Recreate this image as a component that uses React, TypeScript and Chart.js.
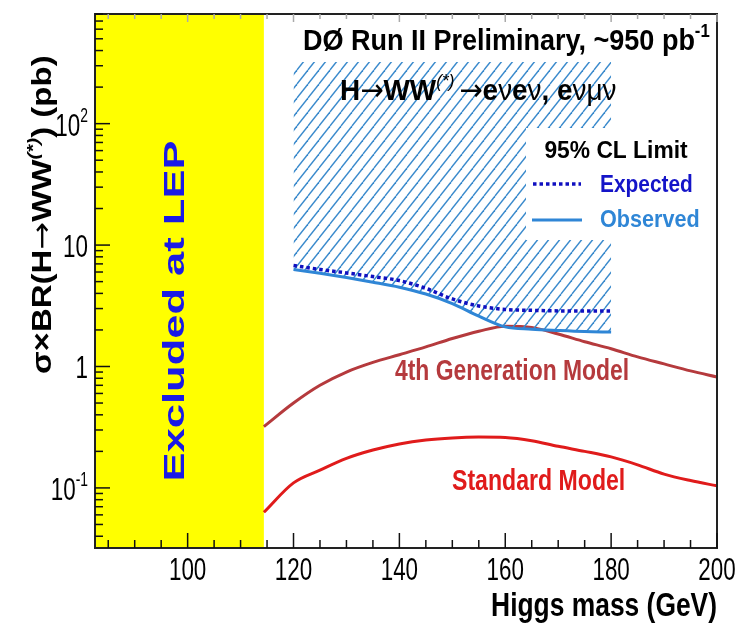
import React, { useEffect, useRef } from 'react';
import { Chart, registerables } from 'chart.js';

Chart.register(...registerables);

// Higgs masses (GeV) where the 95% CL limits were computed
const LIMIT_MASS = [120, 125, 130, 135, 140, 145, 150, 155, 160, 165, 170, 175, 180];
// Expected and observed upper limits on sigma x BR (pb)
const EXPECTED = [6.8, 6.3, 5.9, 5.5, 5.1, 4.4, 3.6, 3.15, 2.95, 2.9, 2.87, 2.86, 2.86];
const OBSERVED = [6.3, 5.85, 5.4, 4.95, 4.5, 3.95, 3.3, 2.6, 2.12, 2.03, 1.98, 1.94, 1.92];

// Model predictions (pb)
const MODEL_MASS = [114.4, 120, 125, 130, 135, 140, 145, 150, 155, 160, 165, 170, 175, 180, 185, 190, 195, 200];
const FOURTH_GEN = [0.32, 0.5, 0.7, 0.9, 1.08, 1.25, 1.45, 1.7, 1.95, 2.15, 2.1, 1.85, 1.6, 1.4, 1.2, 1.05, 0.92, 0.82];
const STANDARD_MODEL = [0.063, 0.11, 0.14, 0.175, 0.205, 0.23, 0.248, 0.258, 0.262, 0.26, 0.245, 0.22, 0.2, 0.18, 0.155, 0.13, 0.115, 0.104];

// LEP direct search lower bound on the Higgs mass (GeV)
const LEP_LIMIT = 114.4;

// Axis ranges and labelled ticks
const X_MIN = 82.5;
const X_MAX = 200;
const Y_MIN = 0.032;
const Y_MAX = 800;
const X_TICKS = [100, 120, 140, 160, 180, 200];
const Y_TICKS = [0.1, 1, 10, 100];
const Y_TICK_LABELS = ['10^-1', '1', '10', '10^2'];

const FONT = '"Liberation Sans", Arial, Helvetica, sans-serif';
const ARROW_FONT = '"Noto Sans", "DejaVu Sans", sans-serif';

type Seg = { t: string; sup?: boolean; italic?: boolean; normal?: boolean; arrow?: boolean };
type TextOpts = {
  size: number;
  color: string;
  align?: 'left' | 'center' | 'right';
  sx?: number;
  rot?: number;
  bold?: boolean;
};

function richText(ctx: CanvasRenderingContext2D, segs: Seg[], x: number, y: number, o: TextOpts) {
  ctx.save();
  ctx.translate(x, y);
  if (o.rot) ctx.rotate(o.rot);
  ctx.scale(o.sx ?? 1, 1);
  ctx.fillStyle = o.color;
  ctx.textBaseline = 'alphabetic';
  ctx.textAlign = 'left';
  const fontFor = (s: Seg) => {
    const sz = s.sup ? o.size * 0.62 : o.size;
    const w = s.normal || o.bold === false ? 'normal' : 'bold';
    return `${s.italic ? 'italic ' : ''}${w} ${sz}px ${s.arrow ? ARROW_FONT : FONT}`;
  };
  let total = 0;
  const widths = segs.map((s) => {
    ctx.font = fontFor(s);
    const w = ctx.measureText(s.t).width;
    total += w;
    return w;
  });
  let cx = o.align === 'center' ? -total / 2 : o.align === 'right' ? -total : 0;
  segs.forEach((s, i) => {
    ctx.font = fontFor(s);
    ctx.fillText(s.t, cx, s.sup ? -o.size * 0.42 : 0);
    cx += widths[i];
  });
  ctx.restore();
}

function parseTickLabel(label: string): Seg[] {
  const [base, exp] = label.split('^');
  return exp ? [{ t: base }, { t: exp, sup: true }] : [{ t: base }];
}

const decorations = {
  id: 'decorations',
  beforeDatasetsDraw(chart: any) {
    const { ctx, chartArea: a, scales } = chart;
    const xs = scales.x;
    // LEP exclusion band
    ctx.save();
    ctx.fillStyle = '#ffff00';
    const xl = xs.getPixelForValue(X_MIN);
    const xr = xs.getPixelForValue(LEP_LIMIT);
    ctx.fillRect(xl, a.top, xr - xl, a.bottom - a.top);
    ctx.restore();
  },
  afterDatasetsDraw(chart: any) {
    const { ctx, chartArea: a, scales } = chart;
    const xs = scales.x;
    const ys = scales.y;

    // white boxes behind the header and the legend
    ctx.save();
    ctx.fillStyle = '#ffffff';
    ctx.fillRect(288, a.top + 1, a.right - 289, 47);
    ctx.fillRect(526, 128, a.right - 527, 112);
    ctx.restore();

    // frame
    ctx.save();
    ctx.strokeStyle = '#222';
    ctx.lineWidth = 2;
    ctx.strokeRect(a.left, a.top, a.right - a.left, a.bottom - a.top);

    // x ticks (inside, bottom and top)
    ctx.lineWidth = 1.5;
    for (let v = 85; v <= X_MAX; v += 5) {
      const px = xs.getPixelForValue(v);
      const major = X_TICKS.includes(v);
      const len = major ? 15 : 8;
      ctx.strokeStyle = '#111';
      ctx.beginPath();
      ctx.moveTo(px, a.bottom);
      ctx.lineTo(px, a.bottom - len);
      ctx.stroke();
      ctx.strokeStyle = '#aaa';
      ctx.beginPath();
      ctx.moveTo(px, a.top);
      ctx.lineTo(px, a.top + (major ? 8 : 5));
      ctx.stroke();
    }
    // y ticks (inside, left)
    ctx.strokeStyle = '#111';
    for (let d = 0.01; d <= 1000; d *= 10) {
      for (let k = 1; k <= 9; k++) {
        const v = d * k;
        if (v < Y_MIN || v > Y_MAX) continue;
        const py = ys.getPixelForValue(v);
        const len = k === 1 ? 15 : 8;
        ctx.beginPath();
        ctx.moveTo(a.left, py);
        ctx.lineTo(a.left + len, py);
        ctx.stroke();
      }
    }
    ctx.restore();

    // tick labels
    xs.ticks.forEach((t: any) => {
      const px = xs.getPixelForValue(t.value);
      richText(ctx, [{ t: String(t.value) }], px, 580, { size: 32, color: '#000', align: 'center', sx: 0.7, bold: false });
    });
    ys.ticks.forEach((t: any, i: number) => {
      const py = ys.getPixelForValue(t.value);
      richText(ctx, parseTickLabel(Y_TICK_LABELS[i]), 88, py + 12, { size: 32, color: '#000', align: 'right', sx: 0.7, bold: false });
    });

    // axis titles
    richText(ctx, [{ t: 'Higgs mass (GeV)' }], a.right, 616, { size: 33, color: '#000', align: 'right', sx: 0.8 });
    richText(
      ctx,
      [
        { t: 'σ×BR(H' },
        { t: '→', arrow: true, normal: true },
        { t: 'WW' },
        { t: '(*)', sup: true, italic: true },
        { t: ') (pb)' },
      ],
      51,
      374,
      { size: 28, color: '#000', align: 'left', sx: 1.18, rot: -Math.PI / 2 }
    );

    // header
    richText(ctx, [{ t: 'DØ Run II Preliminary, ~950 pb' }, { t: '-1', sup: true }], 303, 50, { size: 30, color: '#000', sx: 0.9 });
    richText(
      ctx,
      [
        { t: 'H' },
        { t: '→', arrow: true, normal: true },
        { t: 'WW' },
        { t: '(*) ', sup: true, italic: true, normal: true },
        { t: '→', arrow: true, normal: true },
        { t: 'e' },
        { t: 'ν', normal: true },
        { t: 'e' },
        { t: 'ν', normal: true },
        { t: ', e' },
        { t: 'νμν', normal: true },
      ],
      340,
      100,
      { size: 30, color: '#000', sx: 0.93 }
    );

    // legend
    richText(ctx, [{ t: '95% CL Limit' }], 616, 158, { size: 24, color: '#000', align: 'center', sx: 0.95 });
    ctx.save();
    ctx.strokeStyle = '#1010c0';
    ctx.lineWidth = 3.5;
    ctx.setLineDash([3.5, 3]);
    ctx.beginPath();
    ctx.moveTo(533, 184);
    ctx.lineTo(581, 184);
    ctx.stroke();
    ctx.setLineDash([]);
    ctx.strokeStyle = '#2f86d6';
    ctx.lineWidth = 3;
    ctx.beginPath();
    ctx.moveTo(532, 220);
    ctx.lineTo(582, 220);
    ctx.stroke();
    ctx.restore();
    richText(ctx, [{ t: 'Expected' }], 600, 192, { size: 24, color: '#1414c8', sx: 0.87 });
    richText(ctx, [{ t: 'Observed' }], 600, 227, { size: 24, color: '#2f86d6', sx: 0.9 });

    // band and curve labels
    richText(ctx, [{ t: 'Excluded at LEP' }], 184, 311, { size: 29, color: '#1a1ae6', align: 'center', sx: 1.5, rot: -Math.PI / 2 });
    richText(ctx, [{ t: '4th Generation Model' }], 395, 380, { size: 29, color: '#b53a3d', sx: 0.79 });
    richText(ctx, [{ t: 'Standard Model' }], 452, 490, { size: 30, color: '#e01b1b', sx: 0.77 });
  },
};

function toPoints(xs: number[], ys: number[]) {
  return xs.map((x, i) => ({ x, y: ys[i] }));
}

export default function App() {
  const ref = useRef<HTMLCanvasElement | null>(null);

  useEffect(() => {
    const canvas = ref.current;
    if (!canvas) return;
    const ctx = canvas.getContext('2d')!;

    // diagonal hatching for the excluded region
    const tile = document.createElement('canvas');
    tile.width = 11;
    tile.height = 14;
    const g = tile.getContext('2d')!;
    g.strokeStyle = 'rgb(58,138,204)';
    g.lineWidth = 1.4;
    for (const k of [-1, 0, 1]) {
      g.beginPath();
      g.moveTo(k * 11, 14);
      g.lineTo(k * 11 + 11, 0);
      g.stroke();
    }
    const hatch = ctx.createPattern(tile, 'repeat');

    const common = { pointRadius: 0, cubicInterpolationMode: 'monotone' as const };

    const chart = new Chart(canvas, {
      type: 'line',
      data: {
        datasets: [
          {
            label: 'Expected',
            data: toPoints(LIMIT_MASS, EXPECTED),
            borderColor: '#1010c0',
            borderWidth: 3.5,
            borderDash: [3.5, 3],
            fill: false,
            ...common,
          },
          {
            label: 'Observed',
            data: toPoints(LIMIT_MASS, OBSERVED),
            borderColor: '#2f86d6',
            borderWidth: 3,
            backgroundColor: hatch as any,
            fill: 'end',
            ...common,
          },
          {
            label: '4th Generation Model',
            data: toPoints(MODEL_MASS, FOURTH_GEN),
            borderColor: '#b53a3d',
            borderWidth: 3,
            fill: false,
            ...common,
          },
          {
            label: 'Standard Model',
            data: toPoints(MODEL_MASS, STANDARD_MODEL),
            borderColor: '#e01b1b',
            borderWidth: 3,
            fill: false,
            ...common,
          },
        ],
      },
      options: {
        animation: false,
        responsive: false,
        devicePixelRatio: 1,
        layout: { padding: { left: 95, right: 25, top: 14, bottom: 80 } },
        plugins: { legend: { display: false }, tooltip: { enabled: false } },
        scales: {
          x: {
            type: 'linear',
            min: X_MIN,
            max: X_MAX,
            grid: { display: false },
            border: { display: false },
            ticks: { display: false },
            afterBuildTicks: (s: any) => {
              s.ticks = X_TICKS.map((v) => ({ value: v }));
            },
            afterFit: (s: any) => {
              s.height = 0;
            },
          },
          y: {
            type: 'logarithmic',
            min: Y_MIN,
            max: Y_MAX,
            grid: { display: false },
            border: { display: false },
            ticks: { display: false },
            afterBuildTicks: (s: any) => {
              s.ticks = Y_TICKS.map((v) => ({ value: v }));
            },
            afterFit: (s: any) => {
              s.width = 0;
            },
          },
        },
      },
      plugins: [decorations],
    });
    return () => chart.destroy();
  }, []);

  return (
    <div style={{ position: 'fixed', left: 0, top: 0, width: 742, height: 628, background: '#fff' }}>
      <canvas ref={ref} width={742} height={628} style={{ display: 'block', width: 742, height: 628 }} />
    </div>
  );
}
